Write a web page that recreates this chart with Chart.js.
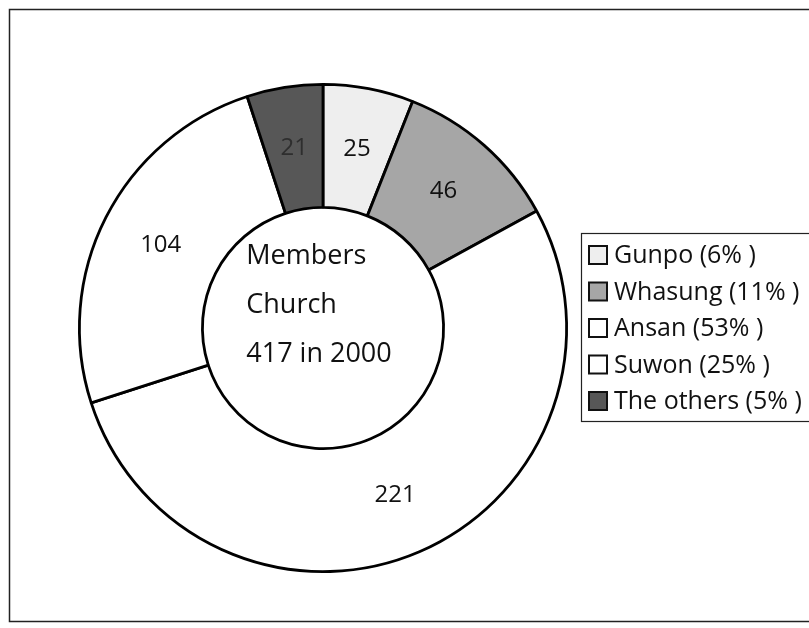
<!DOCTYPE html>
<html>
<head>
<meta charset="utf-8">
<script src="https://cdn.jsdelivr.net/npm/chart.js@4"></script>
<style>
  html, body { margin: 0; padding: 0; background: #fff; }
  #wrap { width: 809px; height: 628px; position: relative; }
</style>
</head>
<body>
<div id="wrap"><canvas id="donut"></canvas></div>
<script>
// members by town, clockwise from 12 o'clock
const towns = ['Gunpo', 'Whasung', 'Ansan', 'Suwon', 'The others'];
const members = [25, 46, 221, 104, 21];
const fills = ['#eeeeee', '#a6a6a6', '#ffffff', '#ffffff', '#575757'];
const labelColors = ['#111', '#111', '#111', '#111', '#2e2e2e'];
const centerLines = ['Members', 'Church', '417 in 2000'];

const total = members.reduce((a, b) => a + b, 0);
const pct = members.map(v => Math.round(v / total * 100));

const FONT = '"Open Sans", "Liberation Sans", sans-serif';

// page frame + legend box, drawn on the canvas
const framePlugin = {
  id: 'frame',
  beforeDraw(chart) {
    const c = chart.ctx;
    c.save();
    c.fillStyle = '#fff';
    c.fillRect(0, 0, chart.width, chart.height);
    c.strokeStyle = '#222';
    c.lineWidth = 1.5;
    c.strokeRect(9.5, 9.5, 820, 612);
    c.restore();
  },
  afterDraw(chart) {
    const c = chart.ctx;
    c.save();
    c.strokeStyle = '#222';
    c.lineWidth = 1.2;
    c.strokeRect(581.5, 233.5, 260, 188);
    c.font = '25px ' + FONT;
    c.textBaseline = 'middle';
    c.textAlign = 'left';
    towns.forEach((t, i) => {
      const y = 255 + i * 36.5;
      c.fillStyle = fills[i];
      c.fillRect(589, y - 9, 18, 18);
      c.lineWidth = 2;
      c.strokeStyle = '#111';
      c.strokeRect(589, y - 9, 18, 18);
      c.fillStyle = '#111';
      c.fillText(t + ' (' + pct[i] + '% )', 614, y + 1);
    });
    c.restore();
  }
};

// value on each slice + the text in the hole
const labelPlugin = {
  id: 'sliceLabels',
  afterDatasetsDraw(chart) {
    const c = chart.ctx;
    const arcs = chart.getDatasetMeta(0).data;
    c.save();
    c.font = '24px ' + FONT;
    c.textAlign = 'center';
    c.textBaseline = 'middle';
    arcs.forEach((arc, i) => {
      const p = arc.getCenterPoint();
      c.fillStyle = labelColors[i];
      c.fillText(String(members[i]), p.x, p.y);
    });
    const cx = arcs[0].x, cy = arcs[0].y;
    c.font = '27px ' + FONT;
    c.textAlign = 'left';
    c.fillStyle = '#111';
    const w = Math.max(...centerLines.map(s => c.measureText(s).width));
    centerLines.forEach((s, i) => {
      c.fillText(s, cx - w / 2 - 4, cy - 72 + i * 49);
    });
    c.restore();
  }
};

new Chart(document.getElementById('donut'), {
  type: 'doughnut',
  data: {
    labels: towns,
    datasets: [{
      data: members,
      backgroundColor: fills,
      borderColor: '#000',
      borderWidth: 2.8
    }]
  },
  options: {
    responsive: true,
    maintainAspectRatio: false,
    animation: false,
    events: [],
    cutout: '49.5%',
    layout: { padding: { left: 78, top: 83, right: 241, bottom: 55 } },
    plugins: {
      legend: { display: false },
      tooltip: { enabled: false }
    }
  },
  plugins: [framePlugin, labelPlugin]
});
</script>
</body>
</html>
